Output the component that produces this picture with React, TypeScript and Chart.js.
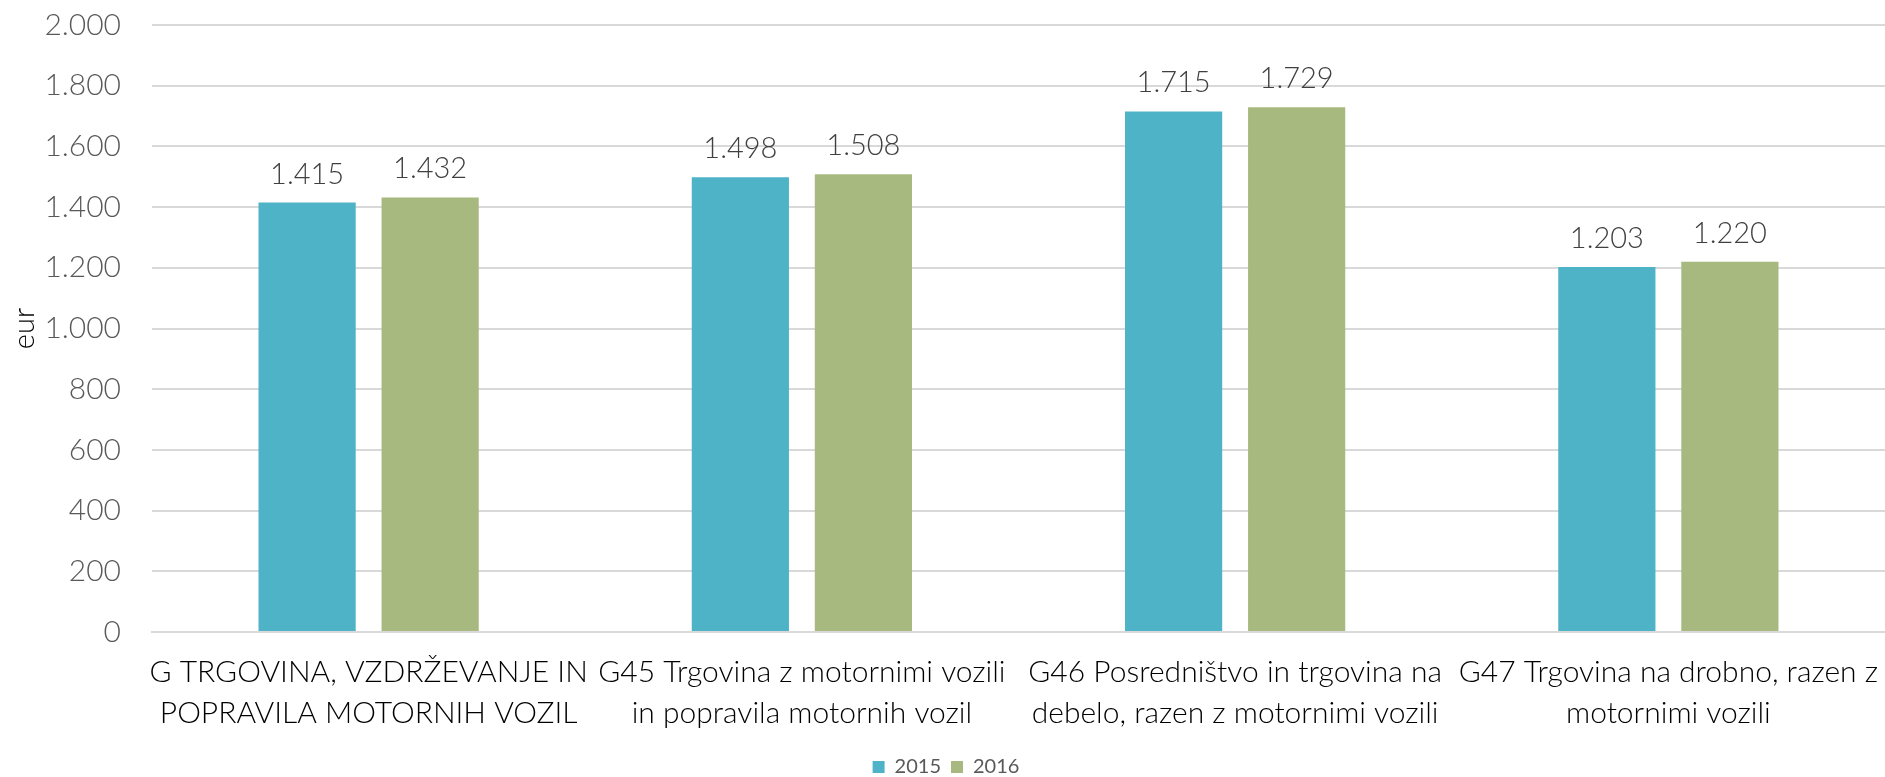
import React, { useEffect, useRef } from "react";
import { Chart, registerables } from "chart.js";

Chart.register(...registerables);

const categories: string[][] = [
  ["G TRGOVINA, VZDRŽEVANJE IN", "POPRAVILA MOTORNIH VOZIL"],
  ["G45 Trgovina z motornimi vozili", "in popravila motornih vozil"],
  ["G46 Posredništvo in trgovina na", "debelo, razen z motornimi vozili"],
  ["G47 Trgovina na drobno, razen z", "motornimi vozili"],
];
const seriesNames = ["2015", "2016"];
const values2015 = [1415, 1498, 1715, 1203];
const values2016 = [1432, 1508, 1729, 1220];
const colors = ["#4FB3C8", "#A8B980"];

const FONT = "Lato, 'Open Sans', sans-serif";

function fmt(v: number): string {
  const s = Math.round(v).toString();
  return s.replace(/\B(?=(\d{3})+(?!\d))/g, ".");
}

const dataLabelPlugin = {
  id: "dataLabels",
  afterDatasetsDraw(chart: any) {
    const ctx = chart.ctx;
    ctx.save();
    ctx.font = `300 29px ${FONT}`;
    ctx.fillStyle = "#404040";
    ctx.textAlign = "center";
    ctx.textBaseline = "alphabetic";
    chart.data.datasets.forEach((ds: any, i: number) => {
      const meta = chart.getDatasetMeta(i);
      meta.data.forEach((bar: any, j: number) => {
        ctx.fillText(fmt(ds.data[j]), bar.x, bar.y - 19);
      });
    });
    ctx.restore();
  },
};

export default function App() {
  const ref = useRef<HTMLCanvasElement | null>(null);
  useEffect(() => {
    document.body.style.margin = "0";
    const chart = new Chart(ref.current!, {
      type: "bar",
      data: {
        labels: categories,
        datasets: [
          { label: seriesNames[0], data: values2015, backgroundColor: colors[0] },
          { label: seriesNames[1], data: values2016, backgroundColor: colors[1] },
        ],
      },
      options: {
        animation: false,
        responsive: true,
        maintainAspectRatio: false,
        layout: { padding: { top: 5, right: 0, bottom: -10, left: 7 } },
        datasets: { bar: { categoryPercentage: 0.568, barPercentage: 0.79 } },
        plugins: {
          legend: {
            position: "bottom",
            labels: {
              boxWidth: 12,
              boxHeight: 12,
              padding: 10,
              color: "#595959",
              font: { family: FONT, size: 20 },
            },
          },
          tooltip: { enabled: false },
        },
        scales: {
          x: {
            grid: { display: false, drawTicks: false },
            border: { color: "#D9D9D9", width: 2 },
            ticks: {
              color: "#000000",
              padding: 20,
              maxRotation: 0,
              autoSkip: false,
              font: { family: FONT, size: 30, weight: "300" as any, lineHeight: 1.36 },
            },
            afterFit: (s: any) => {
              s.height = 115;
              s.paddingLeft = 0;
              s.paddingRight = 0;
            },
          },
          y: {
            min: 0,
            max: 2000,
            ticks: {
              stepSize: 200,
              color: "#595959",
              padding: 31,
              font: { family: FONT, size: 30, weight: "300" as any },
              callback: (v: any) => fmt(Number(v)),
            },
            grid: { color: "#D9D9D9", lineWidth: 2, drawTicks: false },
            border: { display: false },
            title: {
              display: true,
              text: "eur",
              color: "#000000",
              padding: 0,
              font: { family: FONT, size: 29, weight: "300" as any },
            },
            afterFit: (s: any) => {
              s.width = 145;
              s.paddingTop = 25;
              s.paddingBottom = 20;
            },
          },
        },
      },
      plugins: [dataLabelPlugin],
    });
    return () => chart.destroy();
  }, []);
  return (
    <div style={{ position: "fixed", left: 0, top: 0, width: 1885, height: 777 }}>
      <canvas ref={ref} />
    </div>
  );
}
